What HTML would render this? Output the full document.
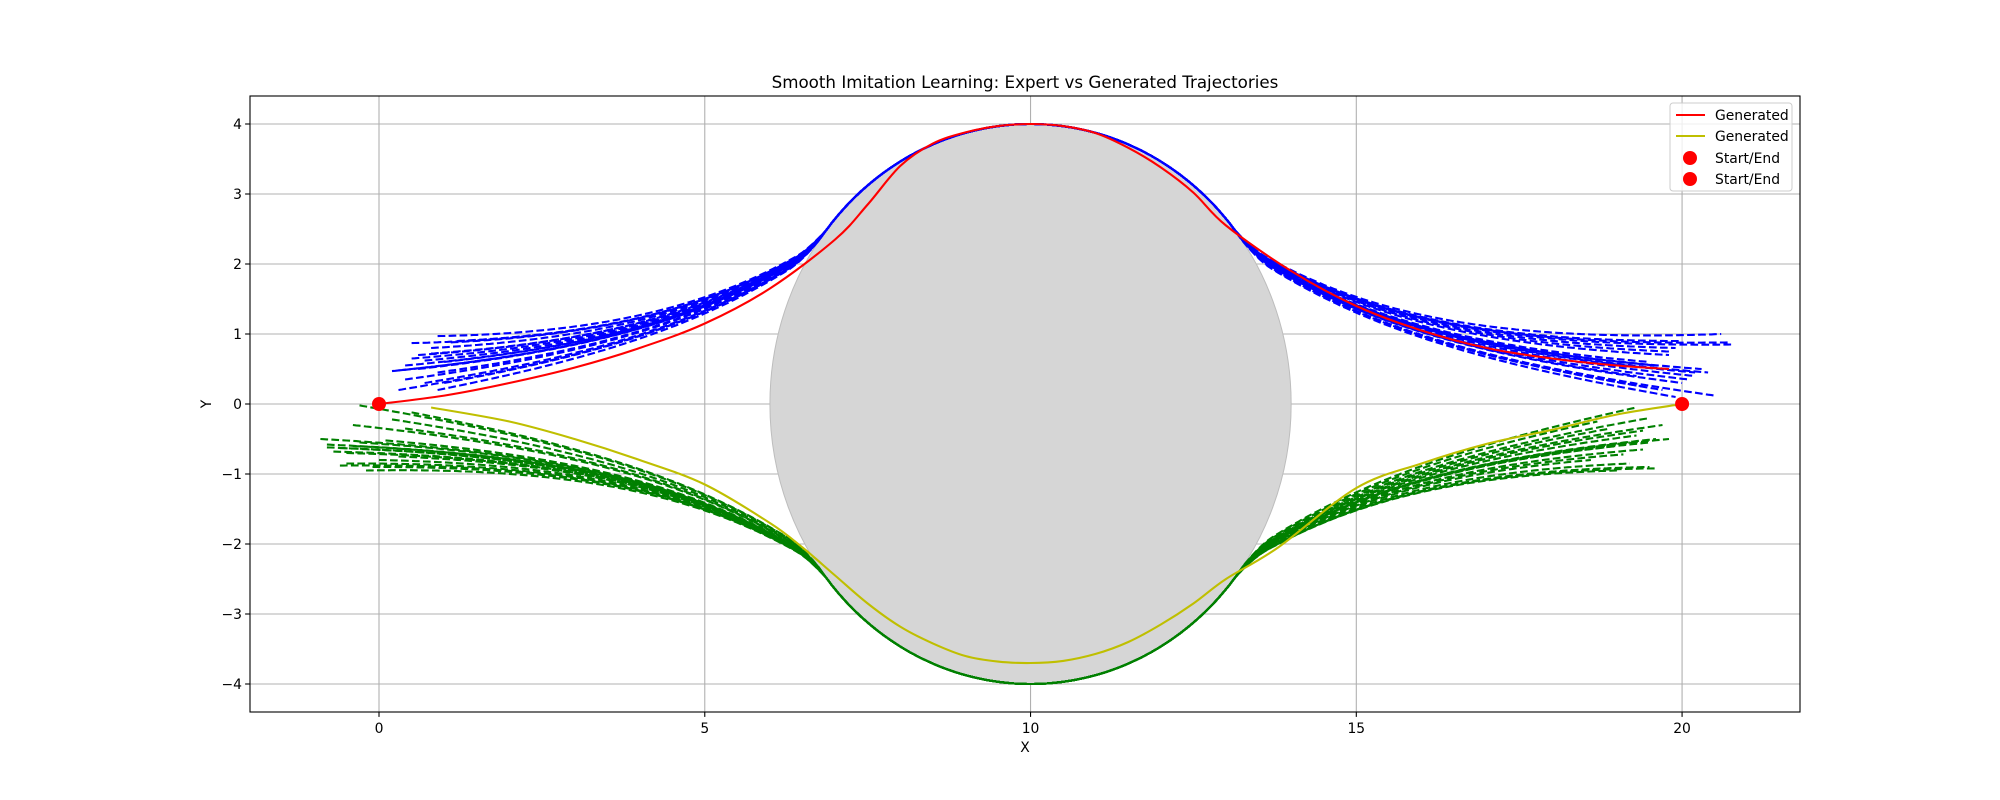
<!DOCTYPE html>
<html><head><meta charset="utf-8"><style>
html,body{margin:0;padding:0;background:#fff;}
svg{display:block;font-family:"DejaVu Sans","Liberation Sans",sans-serif;}
</style></head><body>
<svg id="chart" width="2000" height="800" viewBox="0 0 2000 800" xmlns="http://www.w3.org/2000/svg">
<rect width="2000" height="800" fill="#fff"/>
<text x="1025" y="88" font-size="16.7" text-anchor="middle">Smooth Imitation Learning: Expert vs Generated Trajectories</text>
<defs><clipPath id="plotclip"><rect x="250" y="96" width="1550" height="616"/></clipPath></defs>
<g id="grid"></g>
<g id="plot" clip-path="url(#plotclip)"></g>
<g id="axes"></g>
<text x="1025" y="752" font-size="13.9" text-anchor="middle">X</text>
<text x="207" y="404" font-size="13.9" text-anchor="middle" transform="rotate(-90 207 404)" dominant-baseline="middle">Y</text>
<g>
<rect x="1670" y="103" width="122" height="88" rx="3" fill="#fff" fill-opacity="0.8" stroke="#ccc"/>
<line x1="1676" y1="115" x2="1705" y2="115" stroke="#ff0000" stroke-width="2.1"/>
<text x="1715" y="120" font-size="13.9">Generated</text>
<line x1="1676" y1="136" x2="1705" y2="136" stroke="#bfbf00" stroke-width="2.1"/>
<text x="1715" y="141" font-size="13.9">Generated</text>
<circle cx="1690" cy="158" r="7" fill="#ff0000"/>
<text x="1715" y="163" font-size="13.9">Start/End</text>
<circle cx="1690" cy="179" r="7" fill="#ff0000"/>
<text x="1715" y="184" font-size="13.9">Start/End</text>
</g>
</svg>
<script>
const xTicks=[0,5,10,15,20];
const yTicks=[-4,-3,-2,-1,0,1,2,3,4];
const redX=[0,1,2,3,4,5,6,7,7.5,8,8.5,9,9.5,10,10.5,11,11.5,12,12.5,13,14,15,16,17,18,19,19.8];
const redY=[0,0.12,0.3,0.52,0.8,1.15,1.65,2.35,2.85,3.4,3.72,3.88,3.97,4.0,3.97,3.87,3.66,3.38,3.02,2.55,1.9,1.4,1.05,0.8,0.65,0.55,0.5];
const yelX=[0.8,2,3,4,5,6,6.5,7,7.5,8,8.5,9,9.5,10,10.5,11,11.5,12,12.5,13,13.8,15,16,17,18,19,20];
const yelY=[-0.05,-0.25,-0.5,-0.8,-1.15,-1.7,-2.05,-2.45,-2.85,-3.18,-3.42,-3.6,-3.68,-3.7,-3.67,-3.57,-3.4,-3.15,-2.85,-2.5,-2.05,-1.2,-0.85,-0.57,-0.37,-0.15,0];
const bStartX=[0.9,0.5,0.3,0.8,1.2,0.7,0.4,0.9,1.0,0.3,0.6,0.8,1.1,0.5,0.7,0.2,0.9,1.0,0.4,0.6];
const bStartY=[0.97,0.87,0.48,0.72,0.9,0.62,0.55,0.45,0.3,0.2,0.5,0.8,0.88,0.65,0.3,0.47,0.2,0.6,0.35,0.7];
const bEndX=[20.6,20.8,20.2,19.8,20.0,19.5,20.4,19.7,20.1,19.9,20.3,20.7,19.6,19.3,20.0,20.5,19.8,19.4,20.2,19.9];
const bEndY=[1.0,0.85,0.4,0.75,0.9,0.6,0.45,0.2,0.35,0.1,0.5,0.88,0.55,0.4,0.3,0.12,0.7,0.25,0.45,0.8];
const gStartX=[-0.3,0.5,-0.4,0.2,-0.9,-0.8,-0.6,-0.3,-0.5,-0.1,-0.7,0.3,-0.2,-0.4,0.1,-0.6,0.4,-0.8,-0.5,0.0];
const gStartY=[-0.02,-0.12,-0.3,-0.22,-0.5,-0.58,-0.63,-0.55,-0.85,-0.9,-0.68,-0.75,-0.95,-0.6,-0.52,-0.88,-0.35,-0.62,-0.7,-0.8];
const gEndX=[19.3,19.5,18.9,19.7,19.6,19.2,18.8,19.4,19.5,19.0,19.3,18.6,19.1,19.4,19.8,19.2,18.7,19.5,19.0,19.6];
const gEndY=[-0.05,-0.2,-0.35,-0.3,-0.5,-0.55,-0.6,-0.65,-0.9,-0.95,-0.45,-0.8,-0.72,-0.38,-0.5,-0.85,-0.25,-0.55,-0.6,-0.92];
const obstacle={cx:10,cy:0,r:4};
const startEnd=[[0,0],[20,0]];

const NS="http://www.w3.org/2000/svg";
const X0=-1.98,X1=21.81,Y0=-4.4,Y1=4.4;
const PL=250,PR=1800,PT=96,PB=712;
function X(v){return PL+(v-X0)/(X1-X0)*(PR-PL);}
function Y(v){return PB-(v-Y0)/(Y1-Y0)*(PB-PT);}
function mk(tag,attrs,parent){const e=document.createElementNS(NS,tag);for(const k in attrs)e.setAttribute(k,attrs[k]);parent.appendChild(e);return e;}
const grid=document.getElementById('grid'),plot=document.getElementById('plot'),axes=document.getElementById('axes');

xTicks.forEach(t=>{
 const l=mk('line',{x1:X(t),x2:X(t),y1:PT,y2:PB,stroke:'#b0b0b0','stroke-width':1.1},grid);
 
 
 mk('line',{x1:X(t),x2:X(t),y1:PB,y2:PB+4.9,stroke:'#000','stroke-width':1.1},axes);
 const tx=mk('text',{x:X(t),y:PB+21,'font-size':13.9,'text-anchor':'middle'},axes);tx.textContent=t;
 
 
});
yTicks.forEach(t=>{
 const l=mk('line',{x1:PL,x2:PR,y1:Y(t),y2:Y(t),stroke:'#b0b0b0','stroke-width':1.1},grid);
 
 
 mk('line',{x1:PL-4.9,x2:PL,y1:Y(t),y2:Y(t),stroke:'#000','stroke-width':1.1},axes);
 const tx=mk('text',{x:PL-8,y:Y(t)+5,'font-size':13.9,'text-anchor':'end'},axes);tx.textContent=(t<0?'\u2212'+(-t):t);
 
 
});
const frame=mk('rect',{x:PL,y:PT,width:PR-PL,height:PB-PT,fill:'none',stroke:'#000','stroke-width':1.1},axes);



const kx=(PR-PL)/(X1-X0),ky=(PB-PT)/(Y1-Y0);
const ob=mk('ellipse',{cx:X(obstacle.cx),cy:Y(obstacle.cy),rx:obstacle.r*kx,ry:obstacle.r*ky,fill:'#d6d6d6',stroke:'#bdbdbd','stroke-width':1},plot);



function L(x){const d=(x-10)/3.67;return 4/(1+d*d);}
function circ(x){const d=x-10;return Math.abs(d)<4?Math.sqrt(16-d*d):0;}
function expertPath(sx,sy,ex,ey,sign){
 const offL=Math.abs(sy)-L(sx),offR=Math.abs(ey)-L(ex);
 const xs=[],ys=[];
 for(let x=sx;x<=ex+1e-9;x+=0.05){
  let off;
  if(x<10){const w=(10-x)/(10-sx);off=offL*w*w;}else{const w=(x-10)/(ex-10);off=offR*w*w;}
  xs.push(x);ys.push(Math.max(circ(x),L(x)+off));
 }
 const pts=[];const W=6;
 for(let i=0;i<xs.length;i++){
  let y=ys[i];
  if(Math.abs(xs[i]-10)>1.5&&i>=W&&i<xs.length-W){let s=0;for(let j=-W;j<=W;j++)s+=ys[i+j];y=Math.max(s/(2*W+1),ys[i]);}
  pts.push(X(xs[i]).toFixed(1)+','+Y(sign*y).toFixed(1));
 }
 return 'M'+pts.join('L');
}
for(let i=0;i<bStartX.length;i++){
 const p=mk('path',{d:expertPath(bStartX[i],bStartY[i],bEndX[i],bEndY[i],1),fill:'none',stroke:'#0000ff','stroke-width':2.1,'stroke-dasharray':'7.7,3.3'},plot);
 
 
}
for(let i=0;i<gStartX.length;i++){
 const p=mk('path',{d:expertPath(gStartX[i],gStartY[i],gEndX[i],gEndY[i],-1),fill:'none',stroke:'#008000','stroke-width':2.1,'stroke-dasharray':'7.7,3.3'},plot);
 
 
}
function smooth(xs,ys){
 const P=xs.map((x,i)=>[X(x),Y(ys[i])]);
 let d='M'+P[0][0].toFixed(1)+','+P[0][1].toFixed(1);
 for(let i=0;i<P.length-1;i++){
  const p0=P[Math.max(0,i-1)],p1=P[i],p2=P[i+1],p3=P[Math.min(P.length-1,i+2)];
  const c1=[p1[0]+(p2[0]-p0[0])/6,p1[1]+(p2[1]-p0[1])/6],c2=[p2[0]-(p3[0]-p1[0])/6,p2[1]-(p3[1]-p1[1])/6];
  d+='C'+c1.map(v=>v.toFixed(1)).join(',')+' '+c2.map(v=>v.toFixed(1)).join(',')+' '+p2[0].toFixed(1)+','+p2[1].toFixed(1);
 }
 return d;
}
const red=mk('path',{d:smooth(redX,redY),fill:'none',stroke:'#ff0000','stroke-width':2.1},plot);


const yel=mk('path',{d:smooth(yelX,yelY),fill:'none',stroke:'#bfbf00','stroke-width':2.1},plot);


startEnd.forEach(pt=>{
 const c=mk('circle',{cx:X(pt[0]),cy:Y(pt[1]),r:7,fill:'#ff0000'},plot);
 
 
});
</script>
</body></html>
